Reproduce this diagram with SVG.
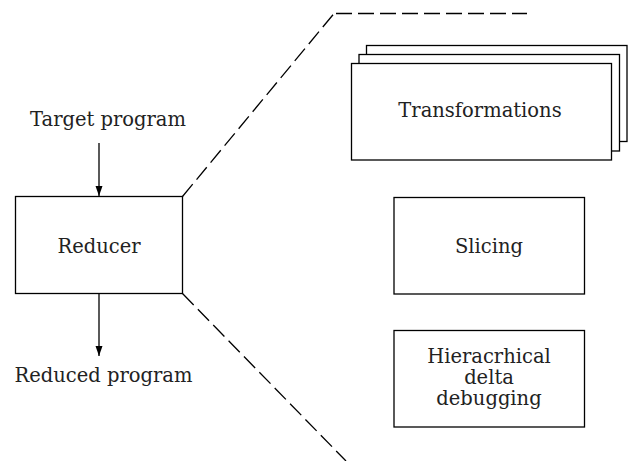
<svg xmlns="http://www.w3.org/2000/svg" width="630" height="461" viewBox="0 0 630 461">
<style>
.box{fill:#fff;stroke:#000;stroke-width:1.3}
.t{font-family:"DejaVu Serif","Liberation Serif",serif;font-size:19.5px;fill:#222;text-anchor:middle}
.ln{stroke:#000;stroke-width:1.3;fill:none}
.dash{stroke:#000;stroke-width:1.3;fill:none;stroke-dasharray:16,6}
</style>
<defs>
<marker id="ah" markerWidth="10" markerHeight="12" refX="4" refY="10" orient="0" markerUnits="userSpaceOnUse">
<path d="M0.5,0 L7.5,0 L4,10 Z" fill="#000"/>
</marker>
</defs>
<rect width="630" height="461" fill="#fff"/>
<g id="connectors">
<line class="ln" x1="99" y1="143" x2="99" y2="196" marker-end="url(#ah)"/>
<line class="ln" x1="99" y1="293.5" x2="99" y2="356" marker-end="url(#ah)"/>
<path class="dash" d="M182.5,196.5 L334,13.5"/>
<path class="dash" d="M336,13.5 L527,13.5"/>
<path class="dash" d="M182.5,293.5 L346,461"/>
</g>
<g id="target-label"><text class="t" x="108" y="126">Target program</text></g>
<g id="reduced-label"><text class="t" x="103.5" y="382">Reduced program</text></g>
<g id="reducer">
<rect class="box" x="15.5" y="196.5" width="167" height="97"/>
<text class="t" x="99" y="253">Reducer</text>
</g>
<g id="transformations">
<rect class="box" x="366.5" y="45.5" width="260.5" height="96"/>
<rect class="box" x="359" y="54.5" width="260.5" height="96.5"/>
<rect class="box" x="351.5" y="63.5" width="260" height="96.5"/>
<text class="t" x="480" y="117">Transformations</text>
</g>
<g id="slicing">
<rect class="box" x="394" y="197.5" width="190.5" height="96.5"/>
<text class="t" x="489" y="253">Slicing</text>
</g>
<g id="hdd">
<rect class="box" x="394" y="330.5" width="190.5" height="96.5"/>
<text class="t" x="489" y="362.5">Hieracrhical</text>
<text class="t" x="489" y="383.5">delta</text>
<text class="t" x="489" y="404.5">debugging</text>
</g>
</svg>
